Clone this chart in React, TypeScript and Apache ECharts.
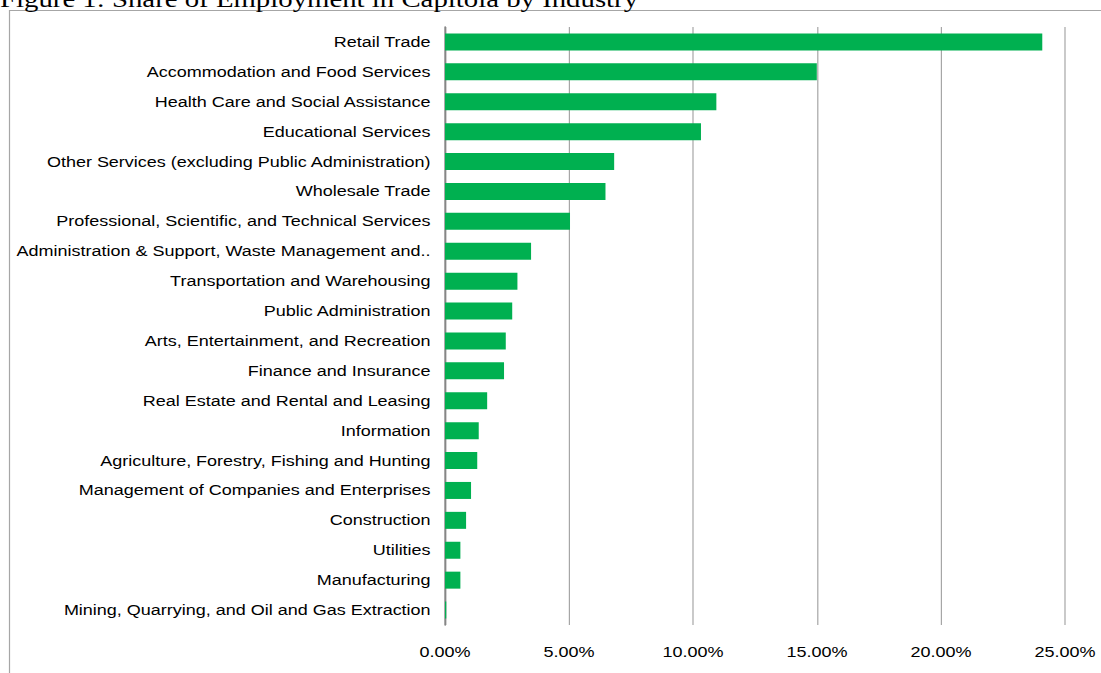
import React, { useEffect, useRef } from "react";
import * as echarts from "echarts";

const categories = [
  "Retail Trade",
  "Accommodation and Food Services",
  "Health Care and Social Assistance",
  "Educational Services",
  "Other Services (excluding Public Administration)",
  "Wholesale Trade",
  "Professional, Scientific, and Technical Services",
  "Administration & Support, Waste Management and Remediation Services",
  "Transportation and Warehousing",
  "Public Administration",
  "Arts, Entertainment, and Recreation",
  "Finance and Insurance",
  "Real Estate and Rental and Leasing",
  "Information",
  "Agriculture, Forestry, Fishing and Hunting",
  "Management of Companies and Enterprises",
  "Construction",
  "Utilities",
  "Manufacturing",
  "Mining, Quarrying, and Oil and Gas Extraction",
];

const shares = [
  24.08, 14.99, 10.94, 10.32, 6.82, 6.47, 5.04, 3.47, 2.92, 2.71,
  2.45, 2.38, 1.7, 1.36, 1.3, 1.05, 0.85, 0.62, 0.62, 0.05,
];

const titleText = "Figure 1: Share of Employment in Capitola by Industry";

// the reference text is horizontally stretched; render narrower and stretch
const STRETCH = 1.2;
const PAGE_W = 1101;
const PAGE_H = 673;
const CHART_W = PAGE_W / STRETCH;

export default function App() {
  const ref = useRef<HTMLDivElement>(null);
  useEffect(() => {
    if (!ref.current) return;
    const chart = echarts.init(ref.current, undefined, { renderer: "svg" });
    chart.setOption({
      animation: false,
      backgroundColor: "#ffffff",
      graphic: [
        {
          type: "rect",
          shape: { x: 9.5 / STRETCH, y: 10.5, width: 1200, height: 800 },
          style: { fill: "none", stroke: "#a6a6a6", lineWidth: 1 },
          silent: true,
          z: -10,
        },
        {
          type: "text",
          x: 0,
          y: -13.5,
          style: {
            text: titleText,
            fontFamily: "Liberation Serif",
            fontSize: 24,
            fill: "#000000",
            verticalAlign: "top",
          },
        },
      ],
      grid: {
        left: 445 / STRETCH,
        right: CHART_W - 1064.5 / STRETCH,
        top: 27,
        bottom: 48,
      },
      xAxis: {
        type: "value",
        min: 0,
        max: 25,
        interval: 5,
        axisLine: { show: false },
        axisTick: { show: false },
        splitLine: { show: true, lineStyle: { color: "#a6a6a6", width: 1 } },
        axisLabel: {
          formatter: (v: number) => v.toFixed(2) + "%",
          fontFamily: "Liberation Sans",
          fontSize: 15,
          color: "#000000",
          margin: 20,
        },
      },
      yAxis: {
        type: "category",
        inverse: true,
        data: categories,
        axisLine: { show: true, lineStyle: { color: "#868686", width: 1.5 } },
        axisTick: { show: false },
        axisLabel: {
          fontFamily: "Liberation Sans",
          fontSize: 15,
          color: "#000000",
          margin: 12,
          width: 352,
          overflow: "truncate",
          ellipsis: "..",
        },
      },
      series: [
        {
          type: "bar",
          data: shares,
          barWidth: 17,
          itemStyle: { color: "#00b050" },
        },
      ],
    });
    return () => chart.dispose();
  }, []);
  return (
    <div
      ref={ref}
      style={{
        position: "fixed",
        left: 0,
        top: 0,
        width: CHART_W,
        height: PAGE_H,
        transform: `scaleX(${STRETCH})`,
        transformOrigin: "0 0",
      }}
    />
  );
}
